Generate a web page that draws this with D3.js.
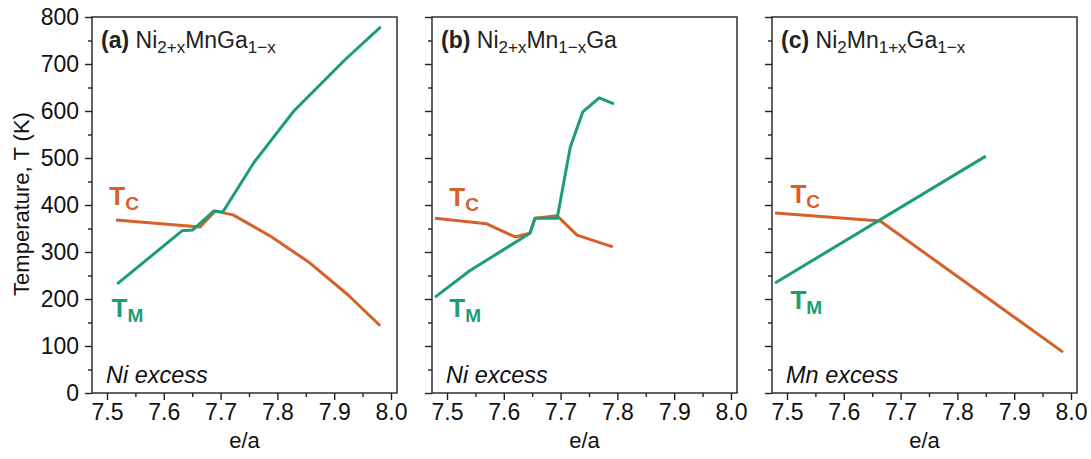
<!DOCTYPE html>
<html><head><meta charset="utf-8">
<script src="https://cdn.jsdelivr.net/npm/d3@7"></script>
<style>body{margin:0;background:#fff} text{font-family:"Liberation Sans",Arial,sans-serif}</style>
</head><body><svg id="chart" width="1091" height="459"></svg>
<script>
// ---- data ----
const panelIds = ["a", "b", "c"];
const xTicks = [7.5, 7.6, 7.7, 7.8, 7.9, 8.0];
const xMinor = [7.55, 7.65, 7.75, 7.85, 7.95];
const yTicks = [0, 100, 200, 300, 400, 500, 600, 700, 800];
const yMinor = [50, 150, 250, 350, 450, 550, 650, 750];

const aTM_x = [7.518, 7.632, 7.651, 7.688, 7.704, 7.759, 7.829, 7.919, 7.982];
const aTM_y = [232, 345, 347, 387, 385, 491, 600, 709, 779];
const aTC_x = [7.516, 7.664, 7.690, 7.722, 7.790, 7.857, 7.924, 7.981];
const aTC_y = [368, 353, 387, 379, 332, 277, 209, 143];

const bTM_x = [7.479, 7.540, 7.646, 7.655, 7.694, 7.717, 7.739, 7.768, 7.794];
const bTM_y = [204, 260, 340, 372, 372, 523, 598, 628, 615];
const bTC_x = [7.479, 7.570, 7.620, 7.646, 7.655, 7.694, 7.729, 7.792];
const bTC_y = [372, 360, 332, 340, 372, 377, 336, 311];

const cTM_x = [7.479, 7.850];
const cTM_y = [234, 504];
const cTC_x = [7.479, 7.664, 7.986];
const cTC_y = [383, 366, 87];

const titles = [
  [["(a)", "b"], [" Ni", "n"], ["2+x", "s"], ["MnGa", "n"], ["1\u2212x", "s"]],
  [["(b)", "b"], [" Ni", "n"], ["2+x", "s"], ["Mn", "n"], ["1\u2212x", "s"], ["Ga", "n"]],
  [["(c)", "b"], [" Ni", "n"], ["2", "s"], ["Mn", "n"], ["1+x", "s"], ["Ga", "n"], ["1\u2212x", "s"]]
];
const notes = ["Ni excess", "Ni excess", "Mn excess"];
const tmSeries = [[aTM_x, aTM_y], [bTM_x, bTM_y], [cTM_x, cTM_y]];
const tcSeries = [[aTC_x, aTC_y], [bTC_x, bTC_y], [cTC_x, cTC_y]];
// label anchor positions in data units [x, y]
const tcLabelPos = [[7.504, 400], [7.504, 398], [7.506, 404]];
const tmLabelPos = [[7.508, 162], [7.504, 162], [7.506, 178]];

// ---- layout ----
const svg = d3.select("#chart");
const panelLeft = [92, 432, 772];
const pw = 305, pTop = 17, ph = 376;
const green = "#1b9e77", orange = "#d6602a";
const fs = 23;
const ff = "'Liberation Sans', Arial, sans-serif";

panelIds.forEach((id, i) => {
  const g = svg.append("g").attr("transform", `translate(${panelLeft[i]},${pTop})`);
  const x = d3.scaleLinear().domain([7.4736, 8.0106]).range([0, pw]);
  const y = d3.scaleLinear().domain([0, 800]).range([ph, 0]);

  // frame
  g.append("rect").attr("width", pw).attr("height", ph)
    .attr("fill", "none").attr("stroke", "#222").attr("stroke-width", 1.4);

  // x axis major
  const xa = g.append("g").attr("transform", `translate(0,${ph})`)
    .call(d3.axisBottom(x).tickValues(xTicks).tickSize(7).tickPadding(4).tickFormat(d3.format(".1f")));
  xa.select(".domain").remove();
  xa.selectAll("line").attr("stroke", "#222").attr("stroke-width", 1.4);
  xa.selectAll("text").attr("font-size", fs).attr("fill", "#111").style("font-family", ff);
  const xm = g.append("g").attr("transform", `translate(0,${ph})`)
    .call(d3.axisBottom(x).tickValues(xMinor).tickSize(4).tickFormat(""));
  xm.select(".domain").remove();
  xm.selectAll("line").attr("stroke", "#222").attr("stroke-width", 1.4);

  // y axis
  const ya = g.append("g")
    .call(d3.axisLeft(y).tickValues(yTicks).tickSize(7).tickPadding(6)
      .tickFormat(i === 0 ? d3.format("d") : ""));
  ya.select(".domain").remove();
  ya.selectAll("line").attr("stroke", "#222").attr("stroke-width", 1.4);
  ya.selectAll("text").attr("font-size", fs).attr("fill", "#111").style("font-family", ff);
  const ym = g.append("g")
    .call(d3.axisLeft(y).tickValues(yMinor).tickSize(4).tickFormat(""));
  ym.select(".domain").remove();
  ym.selectAll("line").attr("stroke", "#222").attr("stroke-width", 1.4);

  // lines
  const line = d3.line().x(d => x(d[0])).y(d => y(d[1]));
  const mk = s => s[0].map((v, k) => [v, s[1][k]]);
  g.append("path").datum(mk(tcSeries[i])).attr("d", line)
    .attr("fill", "none").attr("stroke", orange).attr("stroke-width", 3).attr("stroke-linejoin", "round");
  g.append("path").datum(mk(tmSeries[i])).attr("d", line)
    .attr("fill", "none").attr("stroke", green).attr("stroke-width", 3).attr("stroke-linejoin", "round");

  // T labels
  const tl = (pos, sub, col) => {
    const t = g.append("text").attr("x", x(pos[0])).attr("y", y(pos[1]))
      .attr("fill", col).attr("font-weight", "bold").attr("font-size", 26);
    t.append("tspan").text("T");
    t.append("tspan").attr("font-size", 19).attr("dy", 5).text(sub);
  };
  tl(tcLabelPos[i], "C", orange);
  tl(tmLabelPos[i], "M", green);

  // title
  const tt = g.append("text").attr("x", 9).attr("y", 31).attr("font-size", 23).attr("fill", "#222");
  let shifted = false;
  titles[i].forEach(([s, kind]) => {
    const sp = tt.append("tspan").text(s);
    if (kind === "b") sp.attr("font-weight", "bold");
    if (kind === "s") { sp.attr("font-size", 17).attr("dy", shifted ? 0 : 5); shifted = true; }
    else { if (shifted) sp.attr("dy", -5); shifted = false; }
  });

  // note
  g.append("text").attr("x", 14).attr("y", ph - 10).attr("font-size", 23.5)
    .attr("font-style", "italic").attr("fill", "#111").text(notes[i]);

  // x title
  g.append("text").attr("x", pw / 2).attr("y", ph + 55).attr("text-anchor", "middle")
    .attr("font-size", 22).attr("fill", "#111").text("e/a");
});

svg.append("text").attr("transform", "translate(29,204) rotate(-90)")
  .attr("text-anchor", "middle").attr("font-size", 22).attr("fill", "#111")
  .text("Temperature, T (K)");
</script></body></html>
